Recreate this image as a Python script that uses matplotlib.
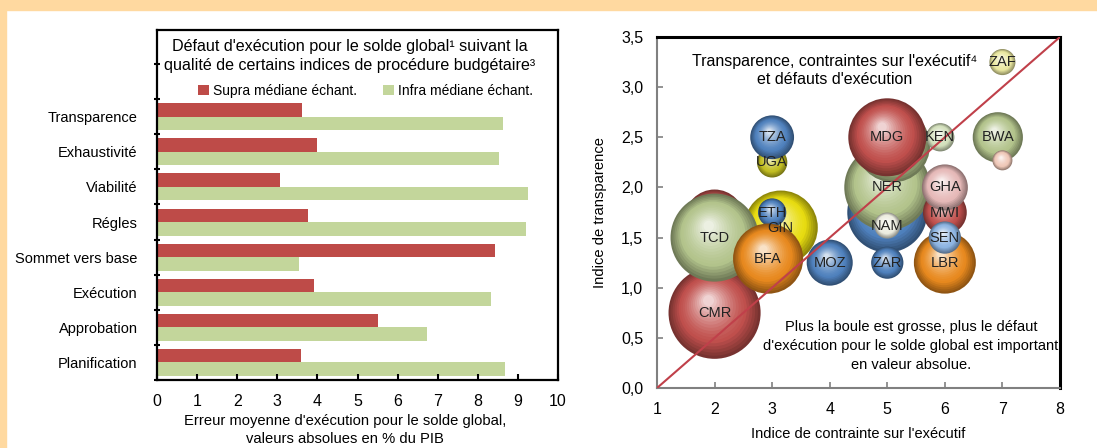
import matplotlib
matplotlib.use('Agg')
import matplotlib.pyplot as plt
import matplotlib.patches as mpatches
import numpy as np
from matplotlib.colors import to_rgb

plt.rcParams['font.family'] = ['Liberation Sans', 'DejaVu Sans']

# --- graphique de gauche : défaut d'exécution par indice
categories = ['Planification', 'Approbation', 'Exécution', 'Sommet vers base',
              'Régles', 'Viabilité', 'Exhaustivité', 'Transparence']
supra = [3.59, 5.51, 3.92, 8.44, 3.76, 3.07, 4.00, 3.62]
infra = [8.68, 6.73, 8.32, 3.53, 9.20, 9.25, 8.53, 8.62]
xticks_g = list(range(0, 11))

# --- graphique de droite : bulles (ordre de dessin, de l'arrière vers l'avant)
pays = ['', 'CMR', 'GIN', 'TCD', 'ETH', 'BFA', 'MOZ', 'UGA', 'TZA',
        '', 'NER', '', 'MDG', 'NAM', 'ZAR', 'KEN',
        'BWA', '', 'ZAF', 'LBR', 'MWI', 'SEN', 'GHA']
contrainte = [2.0, 2.0, 3.15, 2.0, 3.0, 2.93, 4.0, 3.0, 3.0,
              5.0, 5.0, 5.1, 5.0, 5.0, 5.0, 5.92,
              6.92, 7.0, 7.0, 6.0, 6.0, 6.0, 6.0]
transparence = [1.68, 0.75, 1.6, 1.5, 1.75, 1.29, 1.25, 2.25, 2.5,
                1.75, 2.0, 2.42, 2.5, 1.62, 1.25, 2.5,
                2.5, 2.27, 3.25, 1.25, 1.75, 1.5, 2.0]
erreur = [9.0, 21.2, 13.7, 19.4, 2.0, 12.3, 5.3, 2.3, 4.8,
          16.0, 18.5, 13.7, 15.2, 1.7, 2.6, 2.0,
          6.3, 1.0, 1.7, 9.6, 4.8, 2.6, 5.3]
couleurs = ['#C0504D', '#C0504D', '#E8DC10', '#B3C48C', '#4F81BD', '#E8891E', '#4F81BD', '#C2BE22', '#4F81BD',
            '#4F81BD', '#B3C48C', '#B3C48C', '#C0504D', '#EDEDE0', '#4F81BD', '#D3E0BC',
            '#B3C48C', '#F0C8B8', '#EAE8A0', '#E8891E', '#C0504D', '#8DB4E2', '#E6B9B8']

rouge = '#BE4B48'
vert = '#C3D69B'

fig = plt.figure(figsize=(10.97, 4.48), dpi=100)
fig.patch.set_facecolor('white')
# cadre pêche
fig.patches.append(mpatches.Rectangle((0, 1 - 10 / 448), 1, 10 / 448, transform=fig.transFigure,
                                      color='#FFD9A0', zorder=0))
fig.patches.append(mpatches.Rectangle((0, 0), 6 / 1097, 1, transform=fig.transFigure,
                                      color='#FFD9A0', zorder=0))

# ================= gauche
ax1 = fig.add_axes([157 / 1097, 68 / 448, 401 / 1097, 350 / 448])
y = np.arange(len(categories))
h = 0.385
ax1.barh(y + h / 2, supra, height=h, color=rouge, label='Supra médiane échant.')
ax1.barh(y - h / 2, infra, height=h, color=vert, label='Infra médiane échant.')
ax1.set_xlim(0, 10)
ax1.set_ylim(-0.47, 9.47)
ax1.set_yticks(y)
ax1.set_yticklabels(categories, fontsize=10.5)
ax1.set_yticks(np.arange(-0.5, 9.5, 1), minor=True)
ax1.tick_params(axis='y', which='major', length=0, pad=14)
ax1.tick_params(axis='y', which='minor', length=4, width=1.5, direction='inout')
ax1.set_xticks(xticks_g)
ax1.set_xticklabels([str(v) for v in xticks_g], fontsize=11.5)
ax1.tick_params(axis='x', direction='in', length=4, width=1.5, pad=10)
for s in ax1.spines.values():
    s.set_linewidth(1.6)
    s.set_color('black')
ax1.text(0.48, 0.925, "Défaut d'exécution pour le solde global¹ suivant la\n"
         "qualité de certains indices de procédure budgétaire³",
         transform=ax1.transAxes, ha='center', va='center', fontsize=11.6, linespacing=1.3)
leg = ax1.legend(loc='center', bbox_to_anchor=(0.52, 0.826), ncol=2, frameon=False, fontsize=10,
                 handlelength=0.8, handleheight=0.8, handletextpad=0.3, columnspacing=1.9)
fig.text(345 / 1097, 1 - 430 / 448, "Erreur moyenne d'exécution pour le solde global,\n"
         "valeurs absolues en % du PIB", ha='center', va='center', fontsize=10.6, linespacing=1.45)

# ================= droite
ax2 = fig.add_axes([657 / 1097, 60 / 448, 403 / 1097, 351 / 448])
ax2.set_xlim(1, 8)
ax2.set_ylim(0, 3.5)
ax2.set_xticks(range(1, 9))
ax2.set_yticks(np.arange(0, 3.51, 0.5))
ax2.set_yticklabels([f'{v:.1f}'.replace('.', ',') for v in np.arange(0, 3.51, 0.5)], fontsize=11.5)
ax2.set_xticklabels([str(v) for v in range(1, 9)], fontsize=11.5)
ax2.tick_params(direction='in', length=4, width=1.2, color='#808080', pad=10)
ax2.spines['left'].set_color('#808080')
ax2.spines['bottom'].set_color('#808080')
ax2.spines['left'].set_linewidth(1.5)
ax2.spines['bottom'].set_linewidth(1.5)
ax2.spines['top'].set_linewidth(2.2)
ax2.spines['right'].set_linewidth(2.2)
ax2.set_xlabel("Indice de contrainte sur l'exécutif", fontsize=10.5, labelpad=7)
ax2.set_ylabel("Indice de transparence", fontsize=10.6, labelpad=10)


def boule(ax, x, y, err, couleur, nom):
    r = 10 * np.sqrt(err)  # rayon en pixels
    base = np.array(to_rgb(couleur))
    n = 18
    p0 = ax.transData.transform((x, y))
    inv = ax.transData.inverted()
    for i in range(n):
        t = i / (n - 1)
        ri = r * (1 - 0.88 * t)
        off = (r - ri) * 0.3
        cx, cy = inv.transform(p0 + np.array([-off * 0.5, off]))
        if t < 0.3:
            c = base * (0.62 + 0.38 * t / 0.3)
        else:
            c = base + (1 - base) * 0.75 * ((t - 0.3) / 0.7) ** 1.4
        ax.scatter(cx, cy, s=(1.44 * ri) ** 2, color=np.clip(c, 0, 1), edgecolors='none', zorder=2)
    if nom:
        ax.text(x, y, nom, ha='center', va='center', fontsize=10.5, color='#222222', zorder=6)


for p, cx, ty, e, c in zip(pays, contrainte, transparence, erreur, couleurs):
    boule(ax2, cx, ty, e, c, p)

ax2.plot([1, 8], [0, 3.5], color='#C0404A', lw=1.5, zorder=5)

ax2.text(0.44, 0.905, "Transparence, contraintes sur l'exécutif⁴\net défauts d'exécution",
         transform=ax2.transAxes, ha='center', va='center', fontsize=11.5, linespacing=1.3)
ax2.text(0.63, 0.12, "Plus la boule est grosse, plus le défaut\n"
         "d'exécution pour le solde global est important\nen valeur absolue.",
         transform=ax2.transAxes, ha='center', va='center', fontsize=10.5, linespacing=1.45, zorder=6)

fig.savefig('out.png', dpi=100)
